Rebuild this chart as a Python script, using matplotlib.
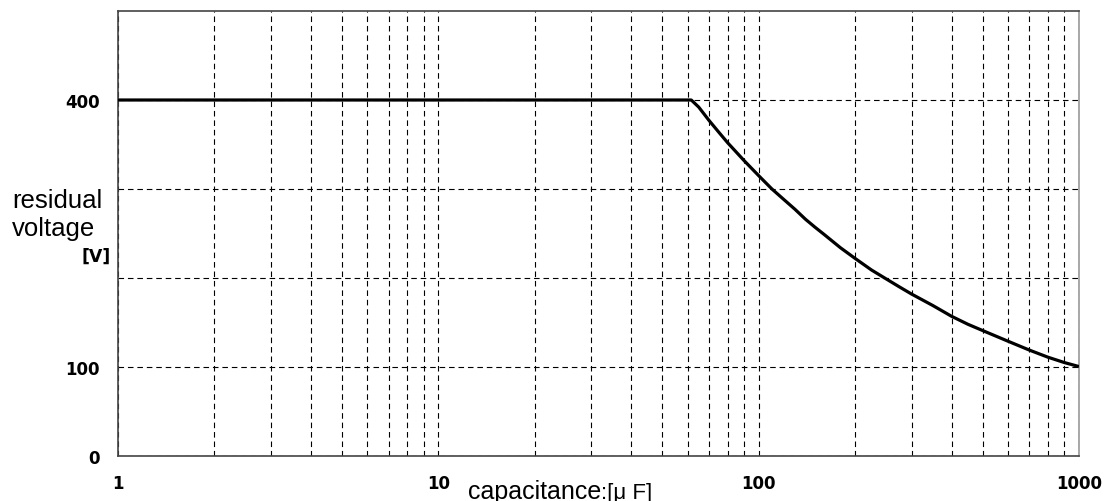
import matplotlib
matplotlib.use("Agg")
import matplotlib.pyplot as plt
from matplotlib.ticker import FixedLocator, NullFormatter, FixedFormatter

# Residual voltage vs. capacitance
capacitance_uF = [1, 10, 61.6, 65, 70, 75, 80, 90, 100, 110, 120, 130, 140, 150,
                  160, 180, 200, 225, 250, 275, 300, 350, 400, 450, 500, 600,
                  700, 800, 900, 1000]
residual_V = [400, 400, 400, 392, 377, 364, 352, 332, 315, 300, 288, 277, 266, 257,
              249, 234, 222, 209, 199, 190, 182, 169, 157, 148, 141, 129,
              119, 111, 105, 100.5]

x_major = [1, 10, 100, 1000]
x_major_labels = ["1", "10", "100", "1000"]
x_minor = [m * d for d in (1, 10, 100) for m in range(2, 10)]
y_grid = [0, 100, 200, 300, 400]
y_labels = ["0", "100", "", "", "400"]

fig = plt.figure(figsize=(11.06, 5.02), dpi=100)
ax = fig.add_axes([118 / 1106, 45 / 502, 961 / 1106, 445 / 502])

ax.plot(capacitance_uF, residual_V, color="black", lw=2.3,
        solid_capstyle="butt", solid_joinstyle="round", zorder=3)

ax.set_xscale("log")
ax.set_xlim(1, 1000)
ax.set_ylim(0, 500)

ax.xaxis.set_major_locator(FixedLocator(x_major))
ax.xaxis.set_major_formatter(FixedFormatter(x_major_labels))
ax.xaxis.set_minor_locator(FixedLocator(x_minor))
ax.xaxis.set_minor_formatter(NullFormatter())
ax.yaxis.set_major_locator(FixedLocator(y_grid))
ax.yaxis.set_major_formatter(FixedFormatter(y_labels))

grid_style = dict(color="black", lw=0.8, linestyle=(0, (5, 3.5)))
ax.grid(True, which="both", axis="x", **grid_style)
ax.grid(True, which="major", axis="y", **grid_style)

ax.tick_params(axis="both", which="both", length=0)
ax.tick_params(axis="x", pad=13)
ax.tick_params(axis="y", pad=13)
for lab in ax.get_xticklabels() + ax.get_yticklabels():
    lab.set_fontfamily("DejaVu Sans")
    lab.set_fontweight("bold")
    lab.set_fontsize(12)

for side in ("left", "bottom", "top"):
    ax.spines[side].set_color("#444444")
    ax.spines[side].set_linewidth(1.2)
ax.spines["right"].set_color("#999999")
ax.spines["right"].set_linewidth(1.2)

# Axis titles (baseline given for the last line of the y title)
fig.text(12 / 1106, 1 - 236 / 502, "residual\nvoltage", ha="left", va="baseline",
         family="Liberation Sans", fontsize=18.5, linespacing=1.2)
fig.text(111 / 1106, 1 - 262 / 502, "[V]", ha="right", va="baseline",
         family="DejaVu Sans", weight="bold", fontsize=12.5)
fig.text(468 / 1106, 1 - 499 / 502, "capacitance", ha="left", va="baseline",
         family="Liberation Sans", fontsize=18)
fig.text(601 / 1106, 1 - 499 / 502, ":[\u03bc F]", ha="left", va="baseline",
         family="Liberation Sans", fontsize=16)

fig.savefig("out.png", dpi=100, facecolor="white")
